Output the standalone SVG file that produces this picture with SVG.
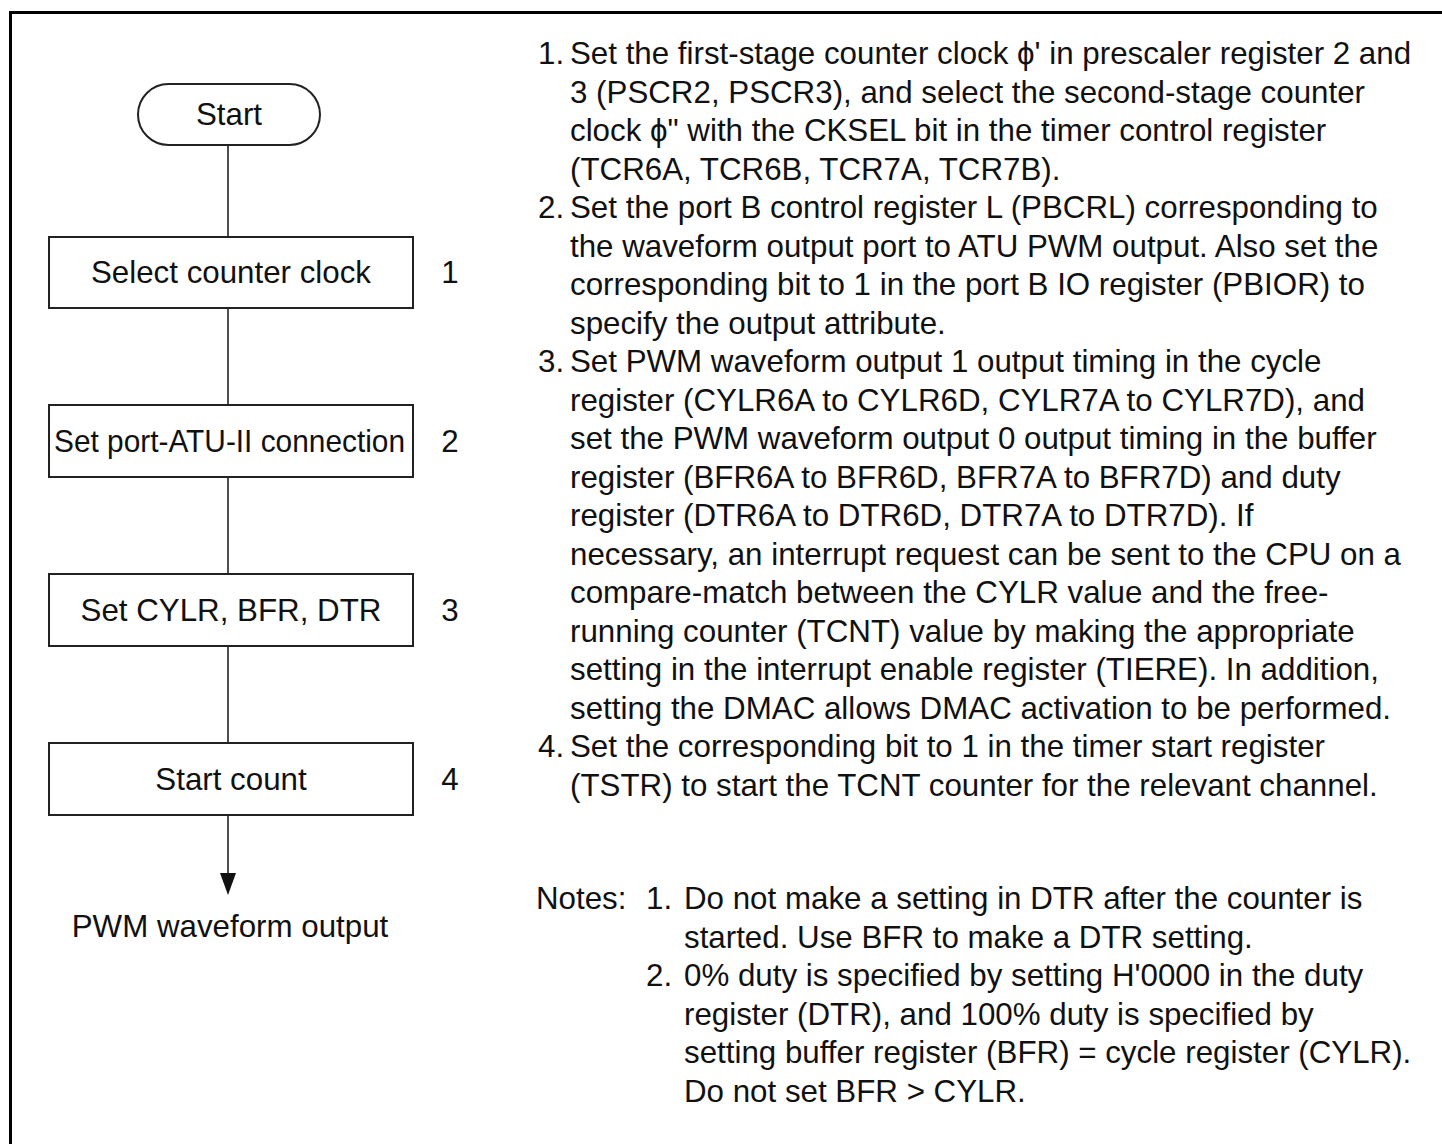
<svg xmlns="http://www.w3.org/2000/svg" width="1442" height="1144" viewBox="0 0 1442 1144">
<style>
text{font-family:"Liberation Sans",Arial,sans-serif;font-size:31.3px;fill:#111}
.c{text-anchor:middle}
.box{fill:#fff;stroke:#222;stroke-width:2}
.ln{stroke:#222;stroke-width:1.6;fill:none}
</style>
<rect width="1442" height="1144" fill="#fff"/>
<path d="M10.5,1144 V12.5 H1442" fill="none" stroke="#000" stroke-width="3"/>
<g id="connectors">
<line class="ln" x1="228" y1="145" x2="228" y2="237"/>
<line class="ln" x1="228" y1="308" x2="228" y2="405"/>
<line class="ln" x1="228" y1="477" x2="228" y2="574"/>
<line class="ln" x1="228" y1="646" x2="228" y2="743"/>
<line class="ln" x1="228" y1="815" x2="228" y2="874"/>
<path d="M220,873 L236,873 L228,895 Z" fill="#111"/>
</g>
<g id="start">
<rect class="box" x="138" y="84" width="182" height="61" rx="30.5" ry="30.5"/>
<text class="c" x="229" y="125">Start</text>
</g>
<g id="step1">
<rect class="box" x="49" y="237" width="364" height="71"/>
<text class="c" x="231" y="283">Select counter clock</text>
<text class="c" x="450" y="283">1</text>
</g>
<g id="step2">
<rect class="box" x="49" y="405" width="364" height="72"/>
<text x="54" y="452" textLength="351" lengthAdjust="spacingAndGlyphs">Set port-ATU-II connection</text>
<text class="c" x="450" y="452">2</text>
</g>
<g id="step3">
<rect class="box" x="49" y="574" width="364" height="72"/>
<text class="c" x="231" y="621">Set CYLR, BFR, DTR</text>
<text class="c" x="450" y="621">3</text>
</g>
<g id="step4">
<rect class="box" x="49" y="743" width="364" height="72"/>
<text class="c" x="231" y="790">Start count</text>
<text class="c" x="450" y="790">4</text>
</g>
<g id="output">
<text class="c" x="230" y="937">PWM waveform output</text>
</g>
<g id="description">
<text x="538" y="64">1.</text><text x="570" y="64">Set the first-stage counter clock ϕ' in prescaler register 2 and</text>
<text x="570" y="102.5">3 (PSCR2, PSCR3), and select the second-stage counter</text>
<text x="570" y="141">clock ϕ" with the CKSEL bit in the timer control register</text>
<text x="570" y="179.5">(TCR6A, TCR6B, TCR7A, TCR7B).</text>
<text x="538" y="218">2.</text><text x="570" y="218">Set the port B control register L (PBCRL) corresponding to</text>
<text x="570" y="256.5">the waveform output port to ATU PWM output. Also set the</text>
<text x="570" y="295">corresponding bit to 1 in the port B IO register (PBIOR) to</text>
<text x="570" y="333.5">specify the output attribute.</text>
<text x="538" y="372">3.</text><text x="570" y="372">Set PWM waveform output 1 output timing in the cycle</text>
<text x="570" y="410.5">register (CYLR6A to CYLR6D, CYLR7A to CYLR7D), and</text>
<text x="570" y="449">set the PWM waveform output 0 output timing in the buffer</text>
<text x="570" y="487.5">register (BFR6A to BFR6D, BFR7A to BFR7D) and duty</text>
<text x="570" y="526">register (DTR6A to DTR6D, DTR7A to DTR7D). If</text>
<text x="570" y="564.5">necessary, an interrupt request can be sent to the CPU on a</text>
<text x="570" y="603">compare-match between the CYLR value and the free-</text>
<text x="570" y="641.5">running counter (TCNT) value by making the appropriate</text>
<text x="570" y="680">setting in the interrupt enable register (TIERE). In addition,</text>
<text x="570" y="718.5">setting the DMAC allows DMAC activation to be performed.</text>
<text x="538" y="757">4.</text><text x="570" y="757">Set the corresponding bit to 1 in the timer start register</text>
<text x="570" y="795.5">(TSTR) to start the TCNT counter for the relevant channel.</text>
</g>
<g id="notes">
<text x="536" y="909">Notes:</text>
<text x="646" y="909">1.</text><text x="684" y="909">Do not make a setting in DTR after the counter is</text>
<text x="684" y="947.5">started. Use BFR to make a DTR setting.</text>
<text x="646" y="986">2.</text><text x="684" y="986">0% duty is specified by setting H'0000 in the duty</text>
<text x="684" y="1024.5">register (DTR), and 100% duty is specified by</text>
<text x="684" y="1063">setting buffer register (BFR) = cycle register (CYLR).</text>
<text x="684" y="1101.5">Do not set BFR &gt; CYLR.</text>
</g>
</svg>
